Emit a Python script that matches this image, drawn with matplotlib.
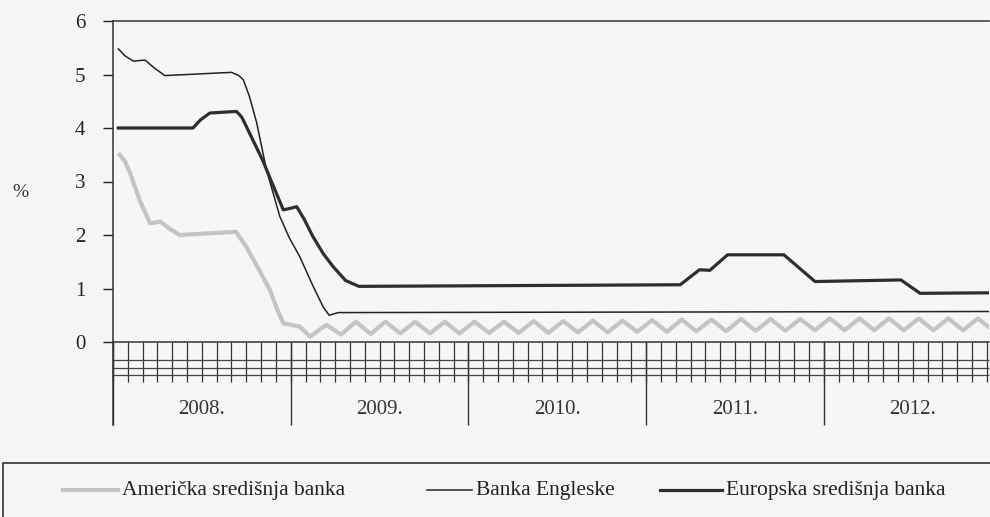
import matplotlib.pyplot as plt
from matplotlib.lines import Line2D
from matplotlib.patches import Rectangle

# x = months since start of 2008
years = ['2008.', '2009.', '2010.', '2011.', '2012.']

us_x = [0.45, 0.8, 1.15, 1.8, 2.5, 3.2, 3.8, 4.5, 8.3, 9.0, 9.8, 10.6, 11.1, 11.5, 12.6, 13.3,
        14.4, 15.4, 16.4, 17.4, 18.4, 19.4, 20.4, 21.4, 22.4, 23.4,
        24.4, 25.4, 26.4, 27.4, 28.4, 29.4, 30.4, 31.4, 32.4, 33.4,
        34.4, 35.4, 36.4, 37.4, 38.4, 39.4, 40.4, 41.4, 42.4, 43.4,
        44.4, 45.4, 46.4, 47.4, 48.4, 49.4, 50.4, 51.4, 52.4, 53.4,
        54.4, 55.4, 56.4, 57.4, 58.4, 59.4]
us_y = [3.5, 3.38, 3.16, 2.65, 2.22, 2.25, 2.12, 2.0, 2.06, 1.78, 1.38, 0.97, 0.6, 0.35, 0.29, 0.1,
        0.32, 0.14, 0.38, 0.15, 0.38, 0.16, 0.38, 0.16, 0.38, 0.16,
        0.38, 0.17, 0.38, 0.17, 0.39, 0.17, 0.39, 0.18, 0.40, 0.18,
        0.40, 0.19, 0.41, 0.19, 0.42, 0.20, 0.42, 0.20, 0.43, 0.21,
        0.43, 0.21, 0.43, 0.22, 0.44, 0.22, 0.44, 0.22, 0.44, 0.22,
        0.44, 0.22, 0.44, 0.22, 0.44, 0.22]

boe_x = [0.36, 0.8, 1.37, 2.16, 2.8, 3.5, 8.0, 8.5, 8.8, 9.2, 9.7, 10.36, 11.26, 11.9,
         12.6, 13.5, 14.2, 14.6, 15.2, 59.4]
boe_y = [5.48, 5.35, 5.25, 5.27, 5.12, 4.98, 5.04, 4.98, 4.9, 4.6, 4.1, 3.22, 2.35, 1.95,
         1.6, 1.05, 0.65, 0.5, 0.55, 0.57]

ecb_x = [0.36, 5.4, 5.9, 6.54, 8.34, 8.7, 9.0, 10.1, 11.0, 11.5, 12.0, 12.4, 12.9, 13.5,
         14.2, 14.86, 15.7, 16.6, 38.3, 39.6, 40.3, 41.5, 45.3, 47.4, 53.2, 54.5, 59.4]
ecb_y = [4.0, 4.0, 4.15, 4.28, 4.31, 4.2, 4.03, 3.4, 2.8, 2.47, 2.5, 2.53, 2.3, 1.97,
         1.65, 1.41, 1.15, 1.04, 1.07, 1.35, 1.34, 1.63, 1.63, 1.13, 1.16, 0.91, 0.92]

bg = '#f6f6f8'
plt.rcParams['font.family'] = ['Liberation Serif', 'DejaVu Serif']

fig = plt.figure(figsize=(9.9, 5.17), dpi=100, facecolor=bg)
ax = fig.add_axes([113/990, 1 - 342/517, 1 - 113/990 - 0.001, (342 - 21)/517])
ax.set_facecolor(bg)

ax.plot(us_x, us_y, color='#c4c4c4', lw=3.0, solid_joinstyle='round')
ax.plot(boe_x, boe_y, color='#222222', lw=1.1)
ax.plot(ecb_x, ecb_y, color='#2e2e2e', lw=2.3)

ax.set_xlim(0, 59.15)
ax.set_ylim(0, 6)
ax.set_yticks(range(7))
ax.tick_params(axis='y', direction='out', length=7, width=1, pad=13,
               labelsize=15, colors='#222222')
ax.set_xticks([])
ax.spines['right'].set_visible(False)
for s in ['top', 'bottom', 'left']:
    ax.spines[s].set_color('#333333')
    ax.spines[s].set_linewidth(1.1)
ax.spines['left'].set_bounds(-1.55, 6)

# category axis below zero: monthly cells and year separators
months = list(range(60))
ax.vlines(months, -0.75, 0, color='#333333', lw=0.9, clip_on=False)
ax.vlines([12 * i for i in range(len(years))], -1.55, 0, color='#333333', lw=1.0, clip_on=False)
for lvl in [-0.33, -0.48, -0.62]:
    ax.hlines(lvl, 0, 59.15, color='#444444', lw=0.9, clip_on=False)
for i, yr in enumerate(years):
    ax.text(12 * i + 6, -1.27, yr, ha='center', va='center', fontsize=15,
            color='#333333', clip_on=False)

fig.text(20/990, 1 - 192/517, '%', ha='center', va='center', fontsize=14, color='#333333')

# legend box
fig.patches.append(Rectangle((3/990, -0.1), 1.2, 0.1 + 1 - 463/517, transform=fig.transFigure,
                             fill=False, lw=1.2, edgecolor='#333333'))
ly = 1 - 490/517
items = [(63, 118, '#c4c4c4', 3.0, 'Američka središnja banka'),
         (427, 472, '#222222', 1.1, 'Banka Engleske'),
         (660, 722, '#2e2e2e', 2.3, 'Europska središnja banka')]
for x0, x1, c, lw, lab in items:
    fig.add_artist(Line2D([x0/990, x1/990], [ly, ly], color=c, lw=lw, transform=fig.transFigure))
    fig.text((x1 + 4)/990, ly, lab, ha='left', va='center', fontsize=15.5, color='#222222')

fig.savefig('out.png', dpi=100, facecolor=bg)
